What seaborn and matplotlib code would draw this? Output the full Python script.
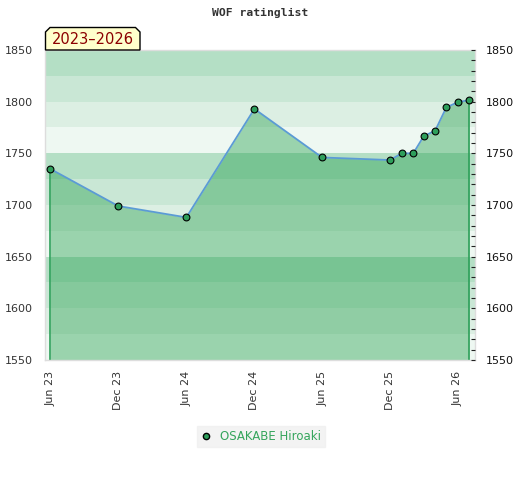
import matplotlib
matplotlib.use("Agg")
import matplotlib.pyplot as plt
import matplotlib.dates as mdates
from matplotlib.patches import Polygon
from matplotlib.ticker import MultipleLocator
import seaborn as sns
import pandas as pd
import numpy as np

# ---- data ----
dates = ["2023-06-01", "2023-12-01", "2024-06-01", "2024-12-01", "2025-06-01",
         "2025-12-01", "2026-01-01", "2026-02-01", "2026-03-01", "2026-04-01",
         "2026-05-01", "2026-06-01", "2026-07-01"]
ratings = [1735, 1699, 1688, 1793, 1746, 1743.5, 1750, 1750, 1766.5, 1772, 1794.5, 1799.5, 1801.5]
player = "OSAKABE Hiroaki"
title = "WOF ratinglist"
period_label = "2023\u20132026"
tick_dates = ["2023-06-01", "2023-12-01", "2024-06-01", "2024-12-01",
              "2025-06-01", "2025-12-01", "2026-06-01"]
y_min, y_max = 1550, 1850

df = pd.DataFrame({"date": pd.to_datetime(dates), "rating": ratings, "player": player})

sns.set_style("white")
plt.rcParams['font.family'] = ['DejaVu Sans']

W, H = 520, 480
fig = plt.figure(figsize=(W / 100, H / 100), dpi=100)
ax = fig.add_axes([45 / W, 1 - 360 / H, 430 / W, 310 / H])

# band background
band_colors = ["#b4dfc5", "#c9e7d5", "#dcefe3", "#eef8f2"]
i = 0
top = y_max
while top > y_min:
    ax.axhspan(top - 25, top, color=band_colors[i % 4], lw=0, zorder=0)
    top -= 25
    i += 1

fill_col = "#27a04e"
ax.fill_between(df["date"], df["rating"], y_min, color=fill_col, alpha=0.42, lw=0, zorder=1)
ax.vlines([df["date"].iloc[0], df["date"].iloc[-1]], y_min,
          [df["rating"].iloc[0], df["rating"].iloc[-1]], color="#2ea05a", lw=1.2, zorder=2)

sns.lineplot(data=df, x="date", y="rating", ax=ax, color="#5b9bd5", lw=1.3, zorder=3, legend=False)
sns.scatterplot(data=df, x="date", y="rating", ax=ax, color="#2e9e5b", edgecolor="black",
                linewidth=0.8, s=24, zorder=4, legend=False)

ax.set_xlim(pd.Timestamp("2023-05-18"), pd.Timestamp("2026-07-17"))
ax.set_ylim(y_min, y_max)
ax.set_xlabel("")
ax.set_ylabel("")
ax.set_xticks(pd.to_datetime(tick_dates))
ax.xaxis.set_major_formatter(mdates.DateFormatter("%b %y"))
ax.set_yticks(np.arange(y_min, y_max + 1, 50))
for lab in ax.get_xticklabels():
    lab.set_rotation(90)
ax.tick_params(axis="x", length=0, pad=8, labelsize=8, labelcolor="#333333")
ax.tick_params(axis="y", length=0, pad=9, labelsize=8, labelcolor="#333333")
for s in ax.spines.values():
    s.set_color("#dddddd")
    s.set_linewidth(1)

ax2 = ax.twinx()
ax2.set_ylim(y_min, y_max)
ax2.set_yticks(np.arange(y_min, y_max + 1, 50))
ax2.yaxis.set_minor_locator(MultipleLocator(10))
ax2.tick_params(axis="y", which="both", direction="in", length=3, width=0.8, color="#222222",
                labelsize=8, labelcolor="#111111", pad=8)
for s in ax2.spines.values():
    s.set_visible(False)

fig.text(260 / W, 1 - 13 / H, title, ha="center", va="center", family="DejaVu Sans Mono",
         fontweight="bold", fontsize=8.2, color="#333333")

# period label box with chamfered top corners
x0, x1, y0, y1, c = 45.5, 140, 50, 27.5, 4.5
pts = [(x0, y0), (x0, y1 + c), (x0 + c, y1), (x1 - c, y1), (x1, y1 + c), (x1, y0)]
pts = [(px / W, 1 - py / H) for px, py in pts]
fig.patches.append(Polygon(pts, closed=True, facecolor="#ffffcc", edgecolor="black", lw=1,
                           transform=fig.transFigure, zorder=5))
fig.text(92.5 / W, 1 - 40 / H, period_label, ha="center", va="center", fontsize=10.5,
         color="#8b0000", zorder=6)

# legend
handle = plt.Line2D([], [], marker="o", ls="", markerfacecolor="#2e9e5b",
                    markeredgecolor="black", markersize=4.5)
leg = fig.legend([handle], [player], loc="center", bbox_to_anchor=(261 / W, 1 - 436.5 / H),
                 frameon=True, fontsize=8.5, handletextpad=0.7, borderpad=0.35,
                 handlelength=0.9, borderaxespad=0, fancybox=False)
leg.get_frame().set_facecolor("#f0f0f0")
leg.get_frame().set_edgecolor("#f0f0f0")
for t in leg.get_texts():
    t.set_color("#35a55c")

fig.savefig("out.png", dpi=100)
